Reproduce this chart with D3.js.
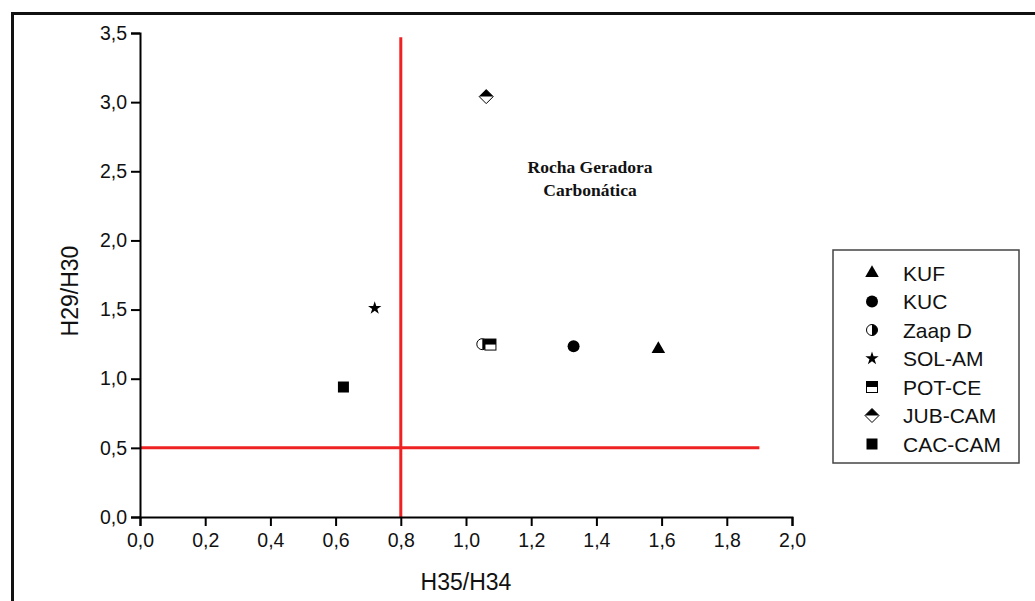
<!DOCTYPE html>
<html>
<head>
<meta charset="utf-8">
<script src="https://cdn.jsdelivr.net/npm/d3@7"></script>
<style>
  body { margin: 0; background: #fff; }
  svg { display: block; font-family: "Liberation Sans", Arial, sans-serif; }
</style>
</head>
<body>
<div id="chart"></div>
<script>
// Data
const series = ["KUF", "KUC", "Zaap D", "SOL-AM", "POT-CE", "JUB-CAM", "CAC-CAM"];
const xValues = [1.59, 1.33, 1.05, 0.72, 1.075, 1.062, 0.624];
const yValues = [1.215, 1.235, 1.25, 1.51, 1.247, 3.04, 0.94];

// Red threshold lines: vertical at x=0.8 (up to y=3.47), horizontal at y=0.5 (to x=1.9)
const vLine = [0.8, 0, 3.47];
const hLine = [0.5, 0, 1.9];

const xTicks = [0, 0.2, 0.4, 0.6, 0.8, 1.0, 1.2, 1.4, 1.6, 1.8, 2.0];
const yTicks = [0, 0.5, 1.0, 1.5, 2.0, 2.5, 3.0, 3.5];

const W = 1035, H = 601;
const plot = {left: 140, right: 792, top: 33, bottom: 517};

const ptBR = d3.formatLocale({decimal: ",", thousands: ".", grouping: [3], currency: ["", ""]});
const fmt = ptBR.format(".1f");

const svg = d3.select("#chart").append("svg")
    .attr("width", W)
    .attr("height", H);

// outer frame (only top and left edges visible)
svg.append("path")
    .attr("d", `M12.5,${H} L12.5,13.5 L${W},13.5`)
    .attr("fill", "none")
    .attr("stroke", "#111")
    .attr("stroke-width", 3);

const x = d3.scaleLinear().domain([0, 2]).range([plot.left, plot.right]);
const y = d3.scaleLinear().domain([0, 3.5]).range([plot.bottom, plot.top]);

// red lines
svg.append("line")
    .attr("x1", x(vLine[0])).attr("x2", x(vLine[0]))
    .attr("y1", y(vLine[1])).attr("y2", y(vLine[2]))
    .attr("stroke", "#ee2222").attr("stroke-width", 3);
svg.append("line")
    .attr("x1", x(hLine[1])).attr("x2", x(hLine[2]))
    .attr("y1", y(hLine[0])).attr("y2", y(hLine[0]))
    .attr("stroke", "#ee2222").attr("stroke-width", 3);

// x axis
const xAxis = svg.append("g")
    .attr("transform", `translate(0,${plot.bottom})`)
    .call(d3.axisBottom(x).tickValues(d3.range(0, 2.001, 0.1)).tickSize(5).tickFormat(""));
xAxis.call(d3.axisBottom(x).tickValues(xTicks).tickSize(9).tickPadding(7).tickFormat(fmt));

// y axis
const yAxis = svg.append("g")
    .attr("transform", `translate(${plot.left},0)`)
    .call(d3.axisLeft(y).tickValues(d3.range(0, 3.501, 0.25)).tickSize(5).tickFormat(""));
yAxis.call(d3.axisLeft(y).tickValues(yTicks).tickSize(9).tickPadding(4).tickFormat(fmt));

svg.selectAll(".tick line").attr("stroke", "#000").attr("stroke-width", 2);
svg.selectAll(".domain").attr("stroke", "#000").attr("stroke-width", 2);
svg.selectAll(".tick text")
    .attr("fill", "#111")
    .style("font-size", "19.5px")
    .style("font-family", "'Liberation Sans', Arial, sans-serif");

// axis titles
svg.append("text")
    .attr("x", (plot.left + plot.right) / 2)
    .attr("y", 590)
    .attr("text-anchor", "middle")
    .style("font-size", "23px")
    .attr("fill", "#111")
    .text("H35/H34");

svg.append("text")
    .attr("transform", `translate(78,291) rotate(-90)`)
    .attr("text-anchor", "middle")
    .style("font-size", "23px")
    .attr("fill", "#111")
    .text("H29/H30");

// annotation
const note = svg.append("text")
    .attr("text-anchor", "middle")
    .style("font-family", "'Liberation Serif', 'Times New Roman', serif")
    .style("font-weight", "bold")
    .style("font-size", "17.5px")
    .attr("fill", "#111");
note.append("tspan").attr("x", 590).attr("y", 173).text("Rocha Geradora");
note.append("tspan").attr("x", 590).attr("y", 196).text("Carbonática");

// marker drawers
function drawMarker(g, name) {
    switch (name) {
        case "KUF":
            g.append("path").attr("d", d3.symbol(d3.symbolTriangle, 80)()).attr("fill", "#000");
            break;
        case "KUC":
            g.append("circle").attr("r", 6).attr("fill", "#000");
            break;
        case "Zaap D":
            g.append("circle").attr("r", 5.5).attr("fill", "#fff").attr("stroke", "#000").attr("stroke-width", 1);
            g.append("path").attr("d", "M0,-5.5 A5.5,5.5 0 0,1 0,5.5 Z").attr("fill", "#000");
            break;
        case "SOL-AM":
            g.append("path").attr("d", d3.symbol(d3.symbolStar, 55)()).attr("fill", "#000");
            break;
        case "POT-CE":
            g.append("rect").attr("x", -5.5).attr("y", -5.5).attr("width", 11).attr("height", 11)
                .attr("fill", "#fff").attr("stroke", "#000").attr("stroke-width", 1);
            g.append("rect").attr("x", -5.5).attr("y", -5.5).attr("width", 11).attr("height", 5.5).attr("fill", "#000");
            break;
        case "JUB-CAM":
            g.append("path").attr("d", "M0,-7 L7,0 L0,7 L-7,0 Z")
                .attr("fill", "#fff").attr("stroke", "#000").attr("stroke-width", 1);
            g.append("path").attr("d", "M0,-7 L7,0 L-7,0 Z").attr("fill", "#000");
            break;
        case "CAC-CAM":
            g.append("rect").attr("x", -5.5).attr("y", -5.5).attr("width", 11).attr("height", 11).attr("fill", "#000");
            break;
    }
}

// points
series.forEach((name, i) => {
    const g = svg.append("g")
        .attr("transform", `translate(${x(xValues[i])},${y(yValues[i])})`);
    drawMarker(g, name);
});

// legend
const legend = svg.append("g").attr("transform", "translate(833,250)");
legend.append("rect")
    .attr("width", 186).attr("height", 213)
    .attr("fill", "#fff")
    .attr("stroke", "#444").attr("stroke-width", 1.5);

const ly = d3.scalePoint().domain(series).range([23, 194]);
series.forEach(name => {
    const row = legend.append("g").attr("transform", `translate(39,${ly(name)})`);
    drawMarker(row, name);
    row.append("text")
        .attr("x", 31)
        .attr("dy", "0.36em")
        .style("font-size", "21px")
        .attr("fill", "#111")
        .text(name);
});
</script>
</body>
</html>
